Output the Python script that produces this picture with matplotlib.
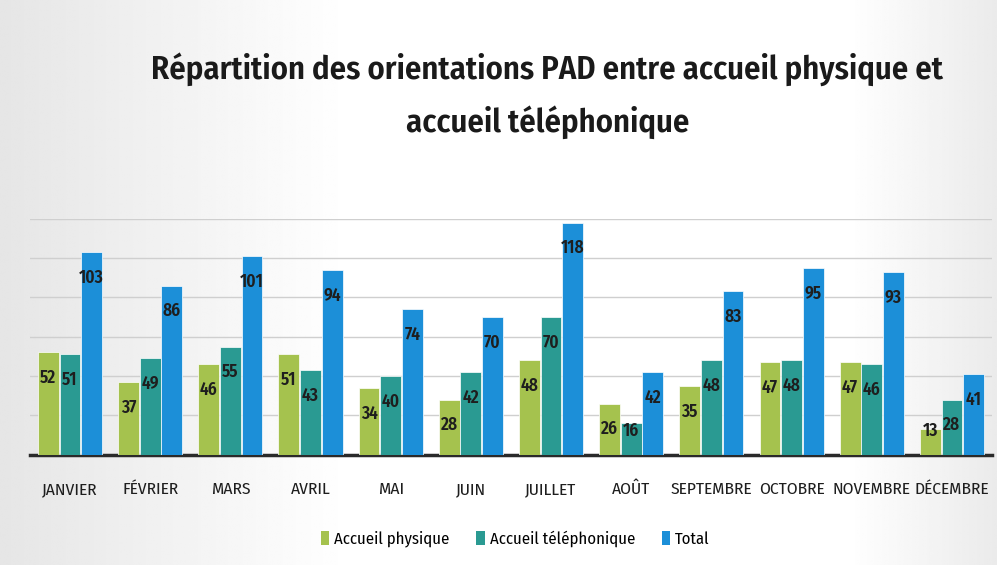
import numpy as np
import matplotlib
matplotlib.use('Agg')
import matplotlib.pyplot as plt
from matplotlib.patches import Patch

plt.rcParams['font.family'] = ['Fira Sans Condensed', 'DejaVu Sans']

mois = ['JANVIER', 'FÉVRIER', 'MARS', 'AVRIL', 'MAI', 'JUIN', 'JUILLET',
        'AOÛT', 'SEPTEMBRE', 'OCTOBRE', 'NOVEMBRE', 'DÉCEMBRE']
physique = [52, 37, 46, 51, 34, 28, 48, 26, 35, 47, 47, 13]
telephonique = [51, 49, 55, 43, 40, 42, 70, 16, 48, 48, 46, 28]
total = [103, 86, 101, 94, 74, 70, 118, 42, 83, 95, 93, 41]

series = [('Accueil physique', physique, '#a5c24e'),
          ('Accueil téléphonique', telephonique, '#2a9a92'),
          ('Total', total, '#1c8fd8')]

fig = plt.figure(figsize=(9.97, 5.65), dpi=100)

# scanned-page background: grey on the sides, white in the middle
bg = fig.add_axes([0, 0, 1, 1], zorder=0)
xs = np.linspace(0, 1, 400)
shade = 0.90 + 0.10 * np.clip(xs / 0.35, 0, 1)
shade = np.minimum(shade, 0.92 + 0.08 * np.clip((1 - xs) / 0.15, 0, 1))
img = np.tile(shade, (60, 1))
bg.imshow(img, cmap='gray', vmin=0, vmax=1, aspect='auto', extent=[0, 1, 0, 1])
bg.axis('off')

ax = fig.add_axes([0.030, 0.195, 0.965, 0.418], zorder=1)
ax.patch.set_alpha(0)

x = np.arange(len(mois))
w = 0.26
offsets = [-0.27, 0.0, 0.27]
for (name, vals, col), off in zip(series, offsets):
    ax.bar(x + off, vals, width=w, color=col, zorder=3, edgecolor='white', linewidth=0.5)
    for xi, v in zip(x + off, vals):
        ax.text(xi, max(v - 13, 12), str(v), ha='center', va='center',
                fontsize=12.5, fontweight='semibold', color='#1e1e1e', zorder=4)

ax.set_xlim(-0.5, 11.5)
ax.set_ylim(0, 120)
ax.set_yticks([20, 40, 60, 80, 100, 120])
ax.yaxis.grid(True, color='#cfcfcf', linewidth=1.0, zorder=0)
ax.tick_params(axis='y', left=False, labelleft=False)
ax.tick_params(axis='x', length=0, pad=19)
ax.set_xticks(x)
ax.set_xticklabels(mois, fontsize=12.5, color='#1e1e1e')
for s in ['top', 'right', 'left']:
    ax.spines[s].set_visible(False)
ax.spines['bottom'].set_color('#2a2a2a')
ax.spines['bottom'].set_linewidth(2.5)

fig.text(0.549, 0.878, 'Répartition des orientations PAD entre accueil physique et',
         ha='center', va='center', fontsize=23.5, fontweight='semibold', color='#1a1a1a')
fig.text(0.549, 0.783, 'accueil téléphonique',
         ha='center', va='center', fontsize=23.5, fontweight='semibold', color='#1a1a1a')

handles = [Patch(facecolor=c, label=n) for n, _, c in series]
fig.legend(handles=handles, loc='center', bbox_to_anchor=(0.517, 0.046), ncol=3,
           frameon=False, fontsize=12, handlelength=0.5, handleheight=0.9,
           handletextpad=0.3, columnspacing=1.6)

fig.savefig('out.png', dpi=100)
